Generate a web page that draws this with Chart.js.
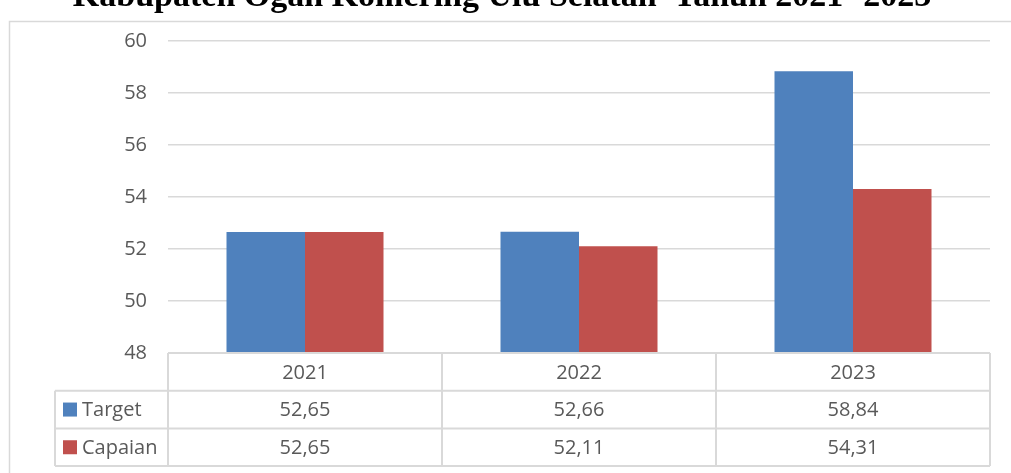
<!DOCTYPE html>
<html>
<head>
<meta charset="utf-8">
<script src="https://cdn.jsdelivr.net/npm/chart.js@4/dist/chart.umd.min.js"></script>
<style>
  html, body { margin: 0; padding: 0; background: #fff; }
  #wrap { position: relative; width: 1011px; height: 473px; overflow: hidden; }
</style>
</head>
<body>
<div id="wrap"><canvas id="myChart" width="1011" height="473"></canvas></div>
<script>
"use strict";

let years = ['2021', '2022', '2023'];
let targetValues = [52.65, 52.66, 58.84];
let capaianValues = [52.65, 52.11, 54.31];
let seriesNames = ['Target', 'Capaian'];
let seriesColors = ['#4F81BD', '#C0504D'];
let yTicks = [48, 50, 52, 54, 56, 58, 60];
let titleText = 'Kabupaten Ogan Komering Ulu Selatan  Tahun 2021- 2023';

let gridColor = '#d9d9d9';
let textColor = '#595959';
let bodyFont = '20px "Open Sans", "Noto Sans", sans-serif';

function formatValue(v){
    return v.toFixed(2).replace('.', ',');
}

// title, outer frame and data table under the plot
const tablePlugin = {
    id: 'dataTable',
    afterDraw(chart){
        const ctx = chart.ctx;
        const area = chart.chartArea;
        const xScale = chart.scales.x;
        const colW = (area.right - area.left) / years.length;
        const rowH = 37.7;
        const top = area.bottom;
        const legendLeft = 55;

        ctx.save();

        // frame
        ctx.strokeStyle = gridColor;
        ctx.lineWidth = 1.5;
        ctx.strokeRect(9.5, 21.5, 1100, 500);

        // title
        ctx.fillStyle = '#000';
        ctx.font = 'bold 34px "Liberation Serif", "DejaVu Serif", serif';
        ctx.textAlign = 'center';
        ctx.textBaseline = 'alphabetic';
        ctx.fillText(titleText, 502, 6);

        // table grid
        ctx.strokeStyle = gridColor;
        ctx.lineWidth = 2;
        ctx.beginPath();
        ctx.moveTo(area.left, top);
        ctx.lineTo(area.right, top);
        for (let r = 1; r <= seriesNames.length + 1; r++){
            ctx.moveTo(legendLeft, top + r * rowH);
            ctx.lineTo(area.right, top + r * rowH);
        }
        for (let i = 0; i <= years.length; i++){
            let x = area.left + i * colW;
            ctx.moveTo(x, top);
            ctx.lineTo(x, top + (seriesNames.length + 1) * rowH);
        }
        ctx.moveTo(legendLeft, top + rowH);
        ctx.lineTo(legendLeft, top + (seriesNames.length + 1) * rowH);
        ctx.stroke();

        // header and values
        ctx.font = bodyFont;
        ctx.fillStyle = textColor;
        ctx.textAlign = 'center';
        ctx.textBaseline = 'middle';
        let allValues = [targetValues, capaianValues];
        for (let i = 0; i < years.length; i++){
            let cx = xScale.getPixelForValue(i);
            ctx.fillText(years[i], cx, top + rowH / 2 + 1);
            for (let s = 0; s < allValues.length; s++){
                ctx.fillText(formatValue(allValues[s][i]), cx, top + (s + 1.5) * rowH + 1);
            }
        }

        // legend keys
        ctx.textAlign = 'left';
        for (let s = 0; s < seriesNames.length; s++){
            let cy = top + (s + 1.5) * rowH;
            ctx.fillStyle = seriesColors[s];
            ctx.fillRect(63, cy - 7, 14, 14);
            ctx.fillStyle = textColor;
            ctx.fillText(seriesNames[s], 82, cy + 1);
        }

        ctx.restore();
    }
};

const ctx = document.getElementById('myChart').getContext('2d');
const myChart = new Chart(ctx, {
    type: 'bar',
    data: {
        labels: years,
        datasets: [{
            label: seriesNames[0],
            data: targetValues,
            backgroundColor: seriesColors[0],
            barPercentage: 1,
            categoryPercentage: 0.573
        }, {
            label: seriesNames[1],
            data: capaianValues,
            backgroundColor: seriesColors[1],
            barPercentage: 1,
            categoryPercentage: 0.573
        }]
    },
    options: {
        responsive: false,
        animation: false,
        layout: {
            padding: { left: 0, right: 21, top: 41, bottom: 120 }
        },
        plugins: {
            legend: { display: false },
            title: { display: false },
            tooltip: { enabled: false }
        },
        scales: {
            x: {
                display: false
            },
            y: {
                min: 48,
                max: 60,
                afterFit(scale){ scale.width = 168; },
                afterBuildTicks(scale){ scale.ticks = yTicks.map(v => ({ value: v })); },
                border: { display: false },
                grid: { color: gridColor, lineWidth: 1.5, drawTicks: false },
                ticks: {
                    padding: 21,
                    color: textColor,
                    font: { family: '"Open Sans", "Noto Sans", sans-serif', size: 20 }
                }
            }
        }
    },
    plugins: [tablePlugin]
});
</script>
</body>
</html>
